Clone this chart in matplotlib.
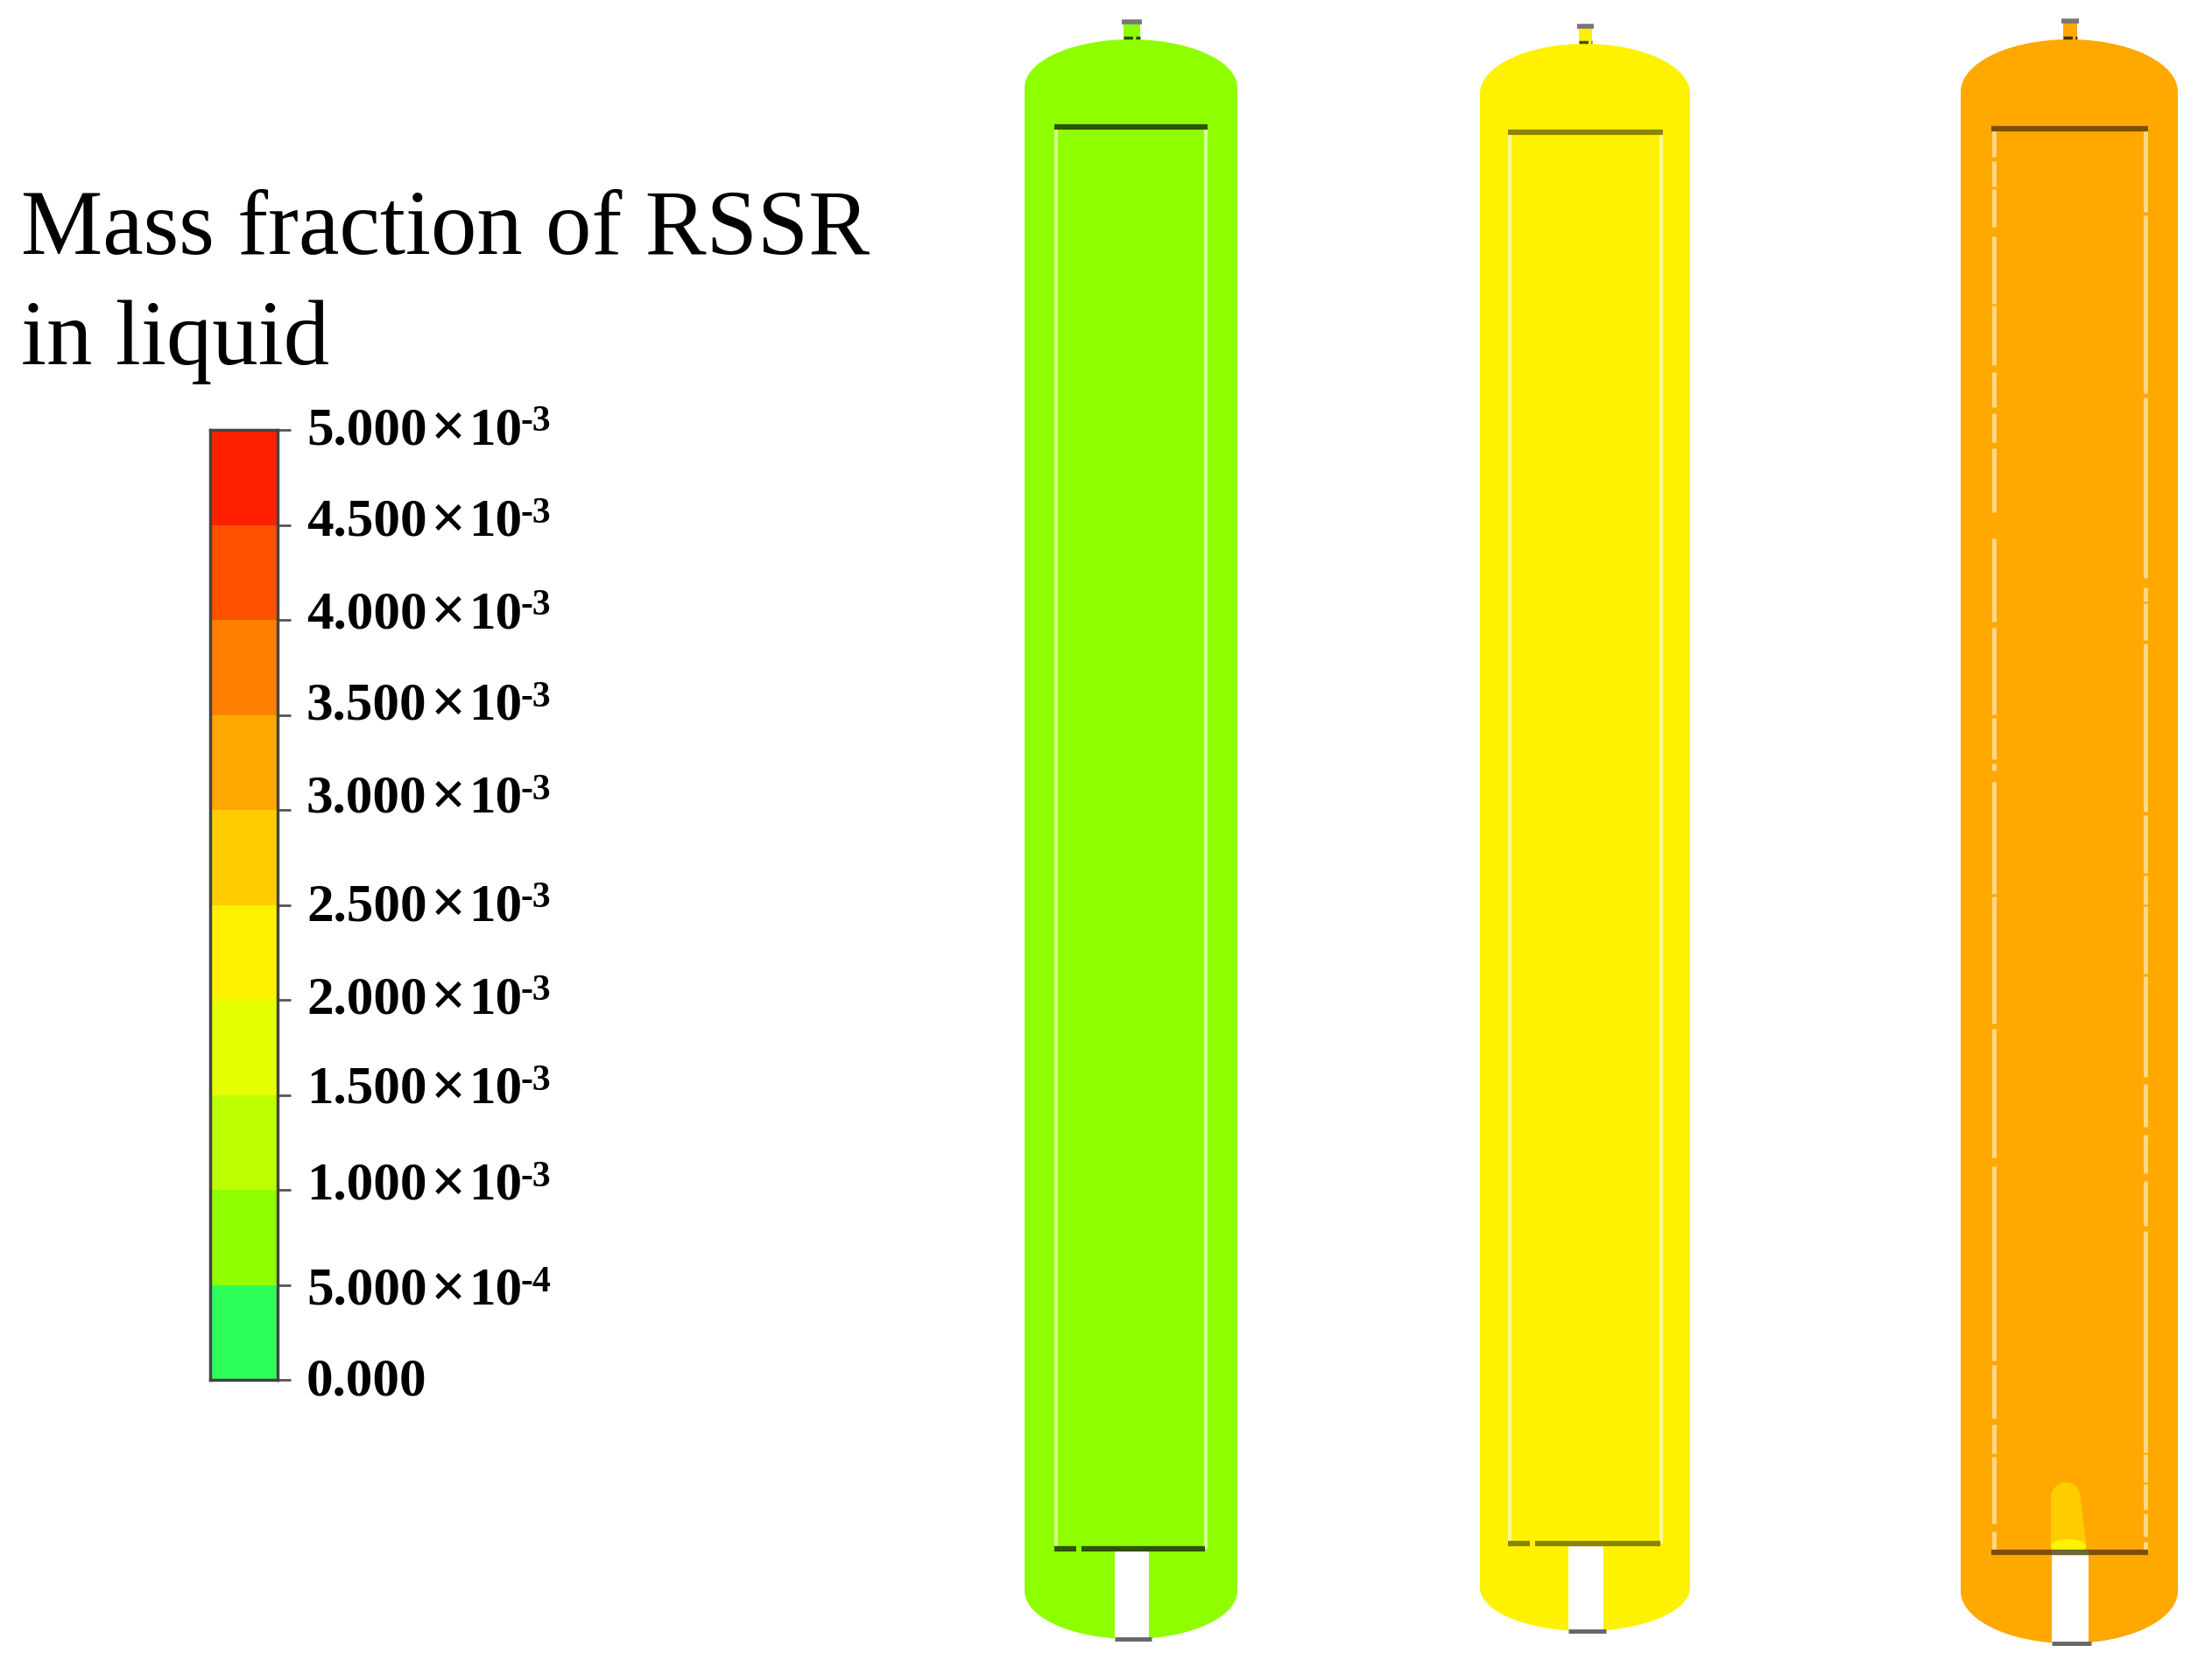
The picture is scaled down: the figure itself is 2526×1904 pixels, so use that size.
import numpy as np
import matplotlib
matplotlib.use("Agg")
import matplotlib.pyplot as plt
from matplotlib.colors import ListedColormap, BoundaryNorm
from matplotlib.patches import Polygon, Rectangle, Ellipse

# colour scale
levels = [0, 0.5e-3, 1.0e-3, 1.5e-3, 2.0e-3, 2.5e-3, 3.0e-3, 3.5e-3, 4.0e-3, 4.5e-3, 5.0e-3]
level_colors = ["#2dff5a", "#8fff00", "#bbff00", "#e6ff00", "#fff200",
                "#ffcc00", "#ffa800", "#ff7f00", "#ff5000", "#ff2000"]
tick_mantissa = ["0.000", "5.000", "1.000", "1.500", "2.000", "2.500",
                 "3.000", "3.500", "4.000", "4.500", "5.000"]
tick_exponent = ["", "-4", "-3", "-3", "-3", "-3", "-3", "-3", "-3", "-3", "-3"]
label_y = [1578, 1475, 1355, 1245, 1142, 1036, 913, 807, 702, 597, 492]

# mass fraction shown in each column
vessel_values = [0.75e-3, 2.25e-3, 3.25e-3]
plume_value = 2.75e-3
plume_core_value = 2.25e-3

# vessel outlines in pixels
left = [1170, 1690, 2239]
right = [1413, 1930, 2487]
top = [45, 50, 45]
top_sh = [100, 107, 105]
bot_sh = [1817, 1813, 1817]
bottom = [1872, 1863, 1877]
noz_l = [1283, 1803, 2356]
noz_r = [1302, 1818, 2372]
noz_top = [25, 30, 24]
plate_l = [1204, 1722, 2274]
plate_r = [1379, 1899, 2453]
plate_top = [145, 151, 147]
plate_bot = [1769, 1763, 1773]
plate_dark = [0.33, 0.55, 0.48]
out_l = [1273, 1791, 2343]
out_r = [1312, 1831, 2385]

# breaks in the third vessel's liner walls
gaps_left = [(179, 184), (213, 216), (259, 270), (347, 349), (417, 425), (465, 472), (505, 512),
             (585, 615), (710, 717), (816, 820), (867, 872), (880, 893), (1021, 1024),
             (1169, 1175), (1322, 1332), (1554, 1559), (1620, 1627), (1660, 1664), (1740, 1749)]
gaps_right = [(242, 246), (449, 454), (660, 671), (687, 689), (731, 735), (927, 931), (997, 1000),
              (1033, 1035), (1112, 1115), (1230, 1238), (1287, 1296), (1340, 1349), (1400, 1406),
              (1659, 1661), (1693, 1695), (1724, 1729), (1755, 1761)]

cmap = ListedColormap(level_colors)
norm = BoundaryNorm(levels, cmap.N)

fig = plt.figure(figsize=(25.26, 19.04), dpi=100)
W, H = 2526, 1904
ax = fig.add_axes([0, 0, 1, 1])
ax.set_xlim(0, W)
ax.set_ylim(H, 0)
ax.axis("off")

# title
ax.text(24, 290, "Mass fraction of RSSR", family="Liberation Serif", fontsize=75.4, color="black")
ax.text(24, 416, "in liquid", family="Liberation Serif", fontsize=75.4, color="black")

# colorbar
cax = fig.add_axes([240 / W, 1 - 1576 / H, 77 / W, 1085 / H])
cax.pcolormesh([0, 1], levels, np.array(levels[:-1])[:, None] + 1e-5, cmap=cmap, norm=norm)
cax.set_xticks([])
cax.yaxis.tick_right()
cax.set_yticks(levels)
cax.set_yticklabels([])
cax.tick_params(axis="y", length=11, width=2, color="#555555")
for s in cax.spines.values():
    s.set_color("#444444")
    s.set_linewidth(2.5)

for m, e, y in zip(tick_mantissa, tick_exponent, label_y):
    ax.text(350, y, m, family="Liberation Serif", weight="bold", fontsize=44,
            va="center", color="black")
    if e:
        ax.text(512, y, "\u00d7", family="Liberation Serif", weight="bold", fontsize=51,
                va="center", ha="center", color="black")
        ax.text(535, y, "10", family="Liberation Serif", weight="bold", fontsize=44,
                va="center", color="black")
        ax.text(595, y - 10, e, family="Liberation Serif", weight="bold", fontsize=30,
                va="center", color="black")

# vessels
t = np.linspace(0, np.pi, 80)
for i in range(3):
    col = cmap(norm(vessel_values[i]))
    cx = (left[i] + right[i]) / 2
    rx = (right[i] - left[i]) / 2
    xs_top = cx - rx * np.cos(t)
    ys_top = top_sh[i] - (top_sh[i] - top[i]) * np.sin(t)
    xs_bot = cx + rx * np.cos(t)
    ys_bot = bot_sh[i] + (bottom[i] - bot_sh[i]) * np.sin(t)
    pts = np.column_stack([np.r_[xs_top, xs_bot], np.r_[ys_top, ys_bot]])
    ax.add_patch(Polygon(pts, closed=True, facecolor=col, edgecolor="none"))

    # top nozzle
    ax.add_patch(Rectangle((noz_l[i], noz_top[i]), noz_r[i] - noz_l[i], top[i] - noz_top[i] + 2,
                           facecolor=col, edgecolor="none"))
    ax.plot([noz_l[i] - 2, noz_r[i] + 2], [noz_top[i], noz_top[i]], color="#777777", lw=4,
            solid_capstyle="butt")
    ax.plot([noz_l[i], noz_r[i]], [top[i] - 2, top[i] - 2], color="black", alpha=0.7, lw=2.5,
            ls=(0, (3, 1)))

    # outlet
    ax.add_patch(Rectangle((out_l[i], plate_bot[i]), out_r[i] - out_l[i],
                           bottom[i] - plate_bot[i] + 1, facecolor="white", edgecolor="none"))
    ax.plot([out_l[i], out_r[i] + 3], [bottom[i], bottom[i]], color="#666666", lw=3.5,
            solid_capstyle="butt")

    # liner side walls
    if i == 2:
        for x, gaps in ((plate_l[i] + 3, gaps_left), (plate_r[i] - 3, gaps_right)):
            y0 = plate_top[i]
            for g0, g1 in gaps + [(plate_bot[i], plate_bot[i])]:
                ax.plot([x, x], [y0, g0], color="white", alpha=0.55, lw=3.6, solid_capstyle="butt")
                y0 = g1
    else:
        for x in (plate_l[i] + 2, plate_r[i] - 2):
            ax.plot([x, x], [plate_top[i], plate_bot[i]], color="white", alpha=0.6, lw=3,
                    solid_capstyle="butt")

    # plates
    dark = tuple(plate_dark[i] * c for c in col[:3])
    ax.plot([plate_l[i], plate_r[i]], [plate_top[i], plate_top[i]], color=dark, lw=4.5,
            solid_capstyle="butt")
    if i == 2:
        ax.plot([plate_l[i], plate_r[i]], [plate_bot[i], plate_bot[i]], color=dark, lw=4.5,
                solid_capstyle="butt")
    else:
        gap = plate_l[i] + 25
        ax.plot([plate_l[i], gap], [plate_bot[i], plate_bot[i]], color=dark, lw=4.5,
                solid_capstyle="butt")
        ax.plot([gap + 6, plate_r[i] - 3], [plate_bot[i], plate_bot[i]], color=dark, lw=4.5,
                solid_capstyle="butt")

# plume above the third outlet
pl = np.linspace(0, np.pi, 30)
plume_x = np.r_[2359 - 17 * np.cos(pl), 2383, 2342]
plume_y = np.r_[1711 - 18 * np.sin(pl), 1770, 1770]
ax.add_patch(Polygon(np.column_stack([plume_x, plume_y]), closed=True,
                     facecolor=cmap(norm(plume_value)), edgecolor="none", zorder=3))
ax.add_patch(Ellipse((2362, 1766), 40, 16, facecolor=cmap(norm(plume_core_value)),
                     edgecolor="none", zorder=3))
ax.plot([2343, 2385], [1773, 1773], color="#6a6a30", lw=4.5, solid_capstyle="butt", zorder=4)

fig.savefig("out.png", dpi=100)
